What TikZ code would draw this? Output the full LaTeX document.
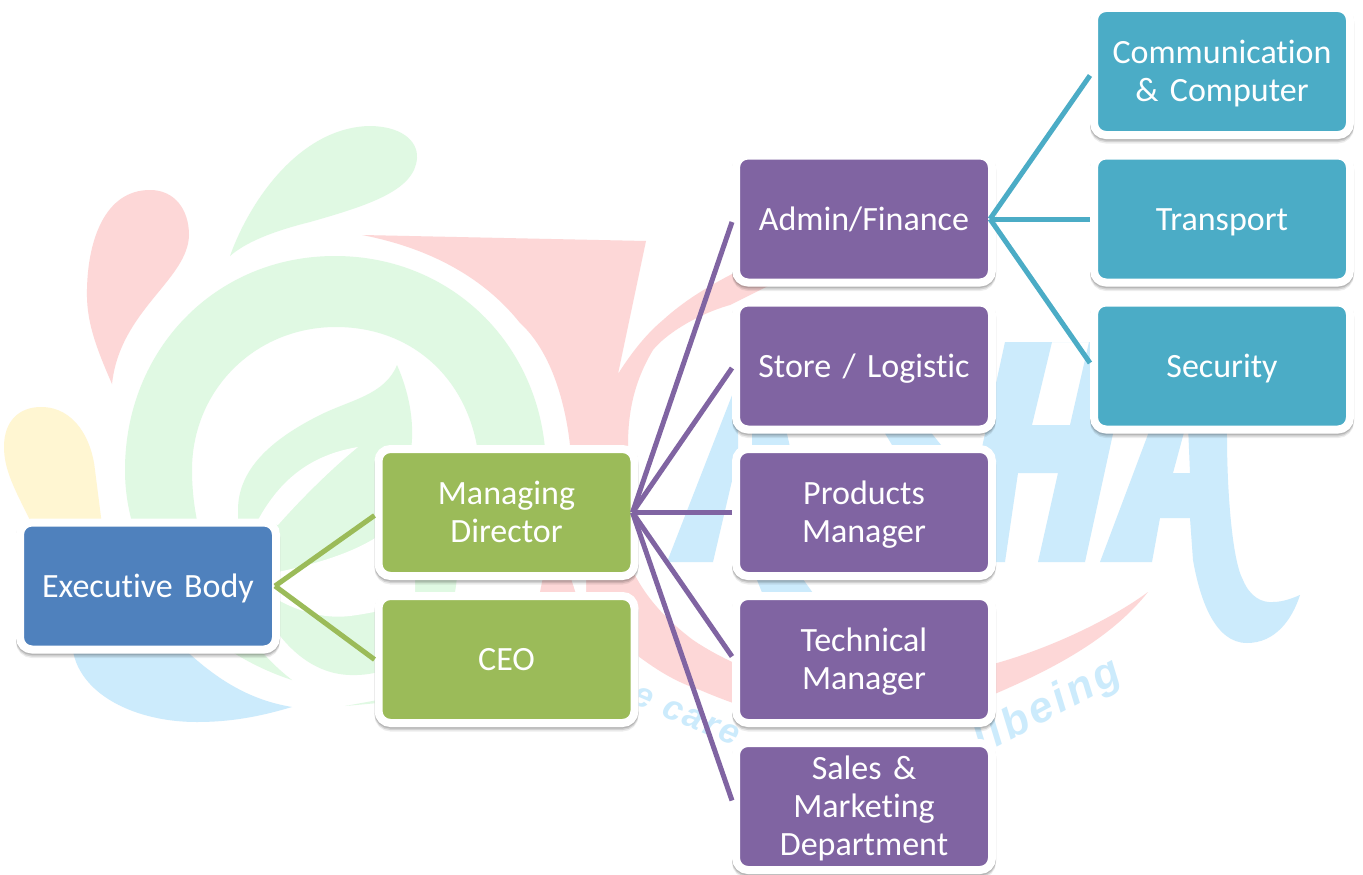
\documentclass[tikz,border=0pt]{standalone}
\usepackage{fontspec}
\setmainfont[Ligatures=NoCommon]{Carlito}
\newfontfamily\wmfont[LetterSpace=8]{Liberation Sans}
\usetikzlibrary{calc}
\definecolor{wgreen}{HTML}{E0F9E3}
\definecolor{wred}{HTML}{FDD7D7}
\definecolor{wblue}{HTML}{CCEBFC}
\definecolor{wyellow}{HTML}{FFF6D2}
\definecolor{nblue}{HTML}{4F81BD}
\definecolor{ngreen}{HTML}{9BBB59}
\definecolor{npurple}{HTML}{8064A2}
\definecolor{nteal}{HTML}{4BACC6}
\newcommand\lnstrut{\rule[-8pt]{0pt}{38pt}}
\tikzset{
  box/.style={rectangle,rounded corners=12pt,draw=white,line width=8pt,minimum width=256pt,minimum height=127pt,
    inner sep=0pt,text=white,align=center,text width=250pt,
    font=\fontsize{34}{38}\selectfont,
    preaction={draw=black,draw opacity=.07,line width=8pt,transform canvas={yshift=-4.5pt}},
    preaction={draw=black,draw opacity=.11,line width=8pt,transform canvas={yshift=-3pt}},
    preaction={draw=black,draw opacity=.13,line width=8pt,transform canvas={yshift=-1.5pt}}},
  bluebox/.style={box,fill=nblue},
  greenbox/.style={box,fill=ngreen},
  purplebox/.style={box,fill=npurple},
  tealbox/.style={box,fill=nteal},
  link/.style={line width=5pt},
  wmtext/.style={text=wblue,inner sep=0pt,font=\wmfont\bfseries\itshape}
}
\begin{document}
\begin{tikzpicture}[x=1pt,y=-1pt]
\useasboundingbox (0,0) rectangle (1363,875);
\fill[white] (0,0) rectangle (1363,875);
% watermark
\fill[wyellow] (30,520) .. controls (15,490) and (4,470) .. (4,447) .. controls (4,420) and (20,407) .. (41,407) .. controls (75,407) and (92,440) .. (95,470) -- (102,525) -- cycle;
\fill[wred] (112,384) .. controls (95,345) and (86,320) .. (87,289) .. controls (88,240) and (105,190) .. (150,190) .. controls (175,190) and (189,210) .. (189,235) .. controls (188,280) and (120,310) .. (112,384) -- cycle;
\fill[wgreen] (230,256) .. controls (250,200) and (300,128) .. (369,126) .. controls (400,126) and (418,140) .. (417,158) .. controls (415,190) and (370,205) .. (310,222) .. controls (270,232) and (245,243) .. (230,256) -- cycle;
% ring
\fill[wgreen] (292,680) .. controls (200,650) and (125,570) .. (125,470) .. controls (125,350) and (215,256) .. (335,256) .. controls (455,256) and (546,350) .. (546,470) -- (540,520) -- (480,480)
  .. controls (480,390) and (420,327) .. (336,327) .. controls (255,327) and (192,390) .. (192,470) .. controls (192,560) and (240,640) .. (292,680) -- cycle;
% inner swirl
\fill[wgreen] (397,365) .. controls (385,395) and (350,400) .. (320,415) .. controls (270,440) and (238,470) .. (238,510) .. controls (238,580) and (280,673) .. (350,675) .. controls (400,677) and (457,640) .. (457,570) -- (460,450) -- (411,450) .. controls (415,420) and (408,390) .. (397,365) -- cycle;
\fill[white] (358,447) .. controls (310,455) and (280,480) .. (258,520) -- (278,525) .. controls (300,500) and (330,470) .. (358,447) -- cycle;
\fill[white] (278,572) .. controls (310,565) and (350,555) .. (380,535) -- (415,535) -- (415,600) .. controls (400,606) and (380,612) .. (350,616) .. controls (325,619) and (300,612) .. (278,600) -- cycle;
\fill[wgreen] (345,706) -- (378,700) -- (378,703) -- cycle;
% red star and crescent
\fill[wred] (362,235) -- (646,241) -- (618,374) .. controls (630,355) and (645,335) .. (663,320) .. controls (685,300) and (710,285) .. (740,270) -- (800,270) -- (730,305) .. controls (695,315) and (665,335) .. (653,350) .. controls (635,380) and (628,410) .. (628,445) -- (628,560) .. controls (640,590) and (660,615) .. (693,640) .. controls (730,665) and (790,690) .. (850,690) .. controls (900,690) and (950,678) .. (997,663) .. controls (1050,648) and (1110,620) .. (1148,592) .. controls (1110,640) and (1050,670) .. (997,693) .. controls (950,712) and (900,725) .. (850,725) .. controls (790,725) and (735,705) .. (700,690) .. controls (670,680) and (650,665) .. (630,650) -- (600,625) -- (540,592) -- (570,445) .. controls (565,400) and (550,350) .. (520,323) .. controls (490,285) and (440,250) .. (362,235) -- cycle;
\fill[white] (570,575) -- (586,575) -- (586,600) -- (578,600) -- cycle;
% blue swoosh
\fill[wblue] (72,640) .. controls (72,690) and (130,722) .. (197,722) .. controls (235,722) and (265,715) .. (292,707) .. controls (250,700) and (215,680) .. (175,640) -- cycle;
% letters
\fill[wblue] (667,562) -- (713,562) -- (738,455) -- (738,380) -- cycle;
\fill[wblue] (752,425) -- (785,425) -- (790,447) -- (752,447) -- cycle;
\fill[wblue] (880,425) -- (925,425) -- (945,450) -- (895,450) -- cycle;
\fill[wblue] (755,575) -- (800,575) -- (818,600) -- (765,600) -- cycle;
\fill[wblue,even odd rule] (957,562) -- (1005,342) -- (1133,342) -- (1085,562) -- (1038,562) -- (1058,473) -- (1018,473) -- (1005,562) -- cycle
  (1052,342) -- (1089,342) -- (1070,425) -- (1032,425) -- cycle;
\fill[wblue,even odd rule] (1100,562) -- (1147,437) -- (1160,400) -- (1225,400) -- (1227,437) .. controls (1227,490) and (1232,560) .. (1243,580) .. controls (1250,597) and (1262,603) .. (1273,602) .. controls (1283,602) and (1293,598) .. (1300,595) .. controls (1292,620) and (1275,643) .. (1247,643) .. controls (1215,643) and (1200,600) .. (1193,560) -- (1190,518) -- (1160,518) -- (1152,562) -- cycle
  (1173,473) -- (1190,473) -- (1188,425) -- (1190,410) -- cycle;
\node[wmtext,rotate=-23] (wmcare) at (686,716) {\fontsize{35}{40}\selectfont e care};
\node[wmtext,rotate=28] (wmbeing) at (1048,708) {\fontsize{43}{46}\selectfont llbeing};
% nodes
\node[bluebox]   (exec) at (148,586)   {\lnstrut Executive Body};
\node[greenbox]  (md)   at (506.5,512.5) {\lnstrut Managing\\\lnstrut Director};
\node[greenbox]  (ceo)  at (506.5,659.5) {\lnstrut CEO};
\node[purplebox] (adm)  at (864,219)   {\lnstrut Admin/Finance};
\node[purplebox] (sto)  at (864,366)   {\lnstrut Store / Logistic};
\node[purplebox] (pro)  at (864,512.5) {\lnstrut Products\\\lnstrut Manager};
\node[purplebox] (tec)  at (864,659.5) {\lnstrut Technical\\\lnstrut Manager};
\node[purplebox] (sal)  at (864,806.5) {\lnstrut Sales \&\\\lnstrut Marketing\\\lnstrut Department};
\node[tealbox]   (com)  at (1222,71.5) {\lnstrut Communication\\\lnstrut \& Computer};
\node[tealbox]   (tra)  at (1222,219)  {\lnstrut Transport};
\node[tealbox]   (sec)  at (1222,366)  {\lnstrut Security};
% connectors
\draw[link,ngreen] ($(exec.east)+(-5,0)$) -- ($(md.west)+(0,3)$);
\draw[link,ngreen] ($(exec.east)+(-5,0)$) -- (ceo.west);
\foreach \t/\d in {adm/3,sto/2,pro/0,tec/-3,sal/-6}{
  \draw[link,npurple] ($(md.east)+(-6,0)$) -- ($(\t.west)+(0,\d)$);
}
\foreach \t/\d in {com/4,tra/0,sec/-3}{
  \draw[link,nteal] ($(adm.east)+(-6,0)$) -- ($(\t.west)+(0,\d)$);
}
\end{tikzpicture}
\end{document}
